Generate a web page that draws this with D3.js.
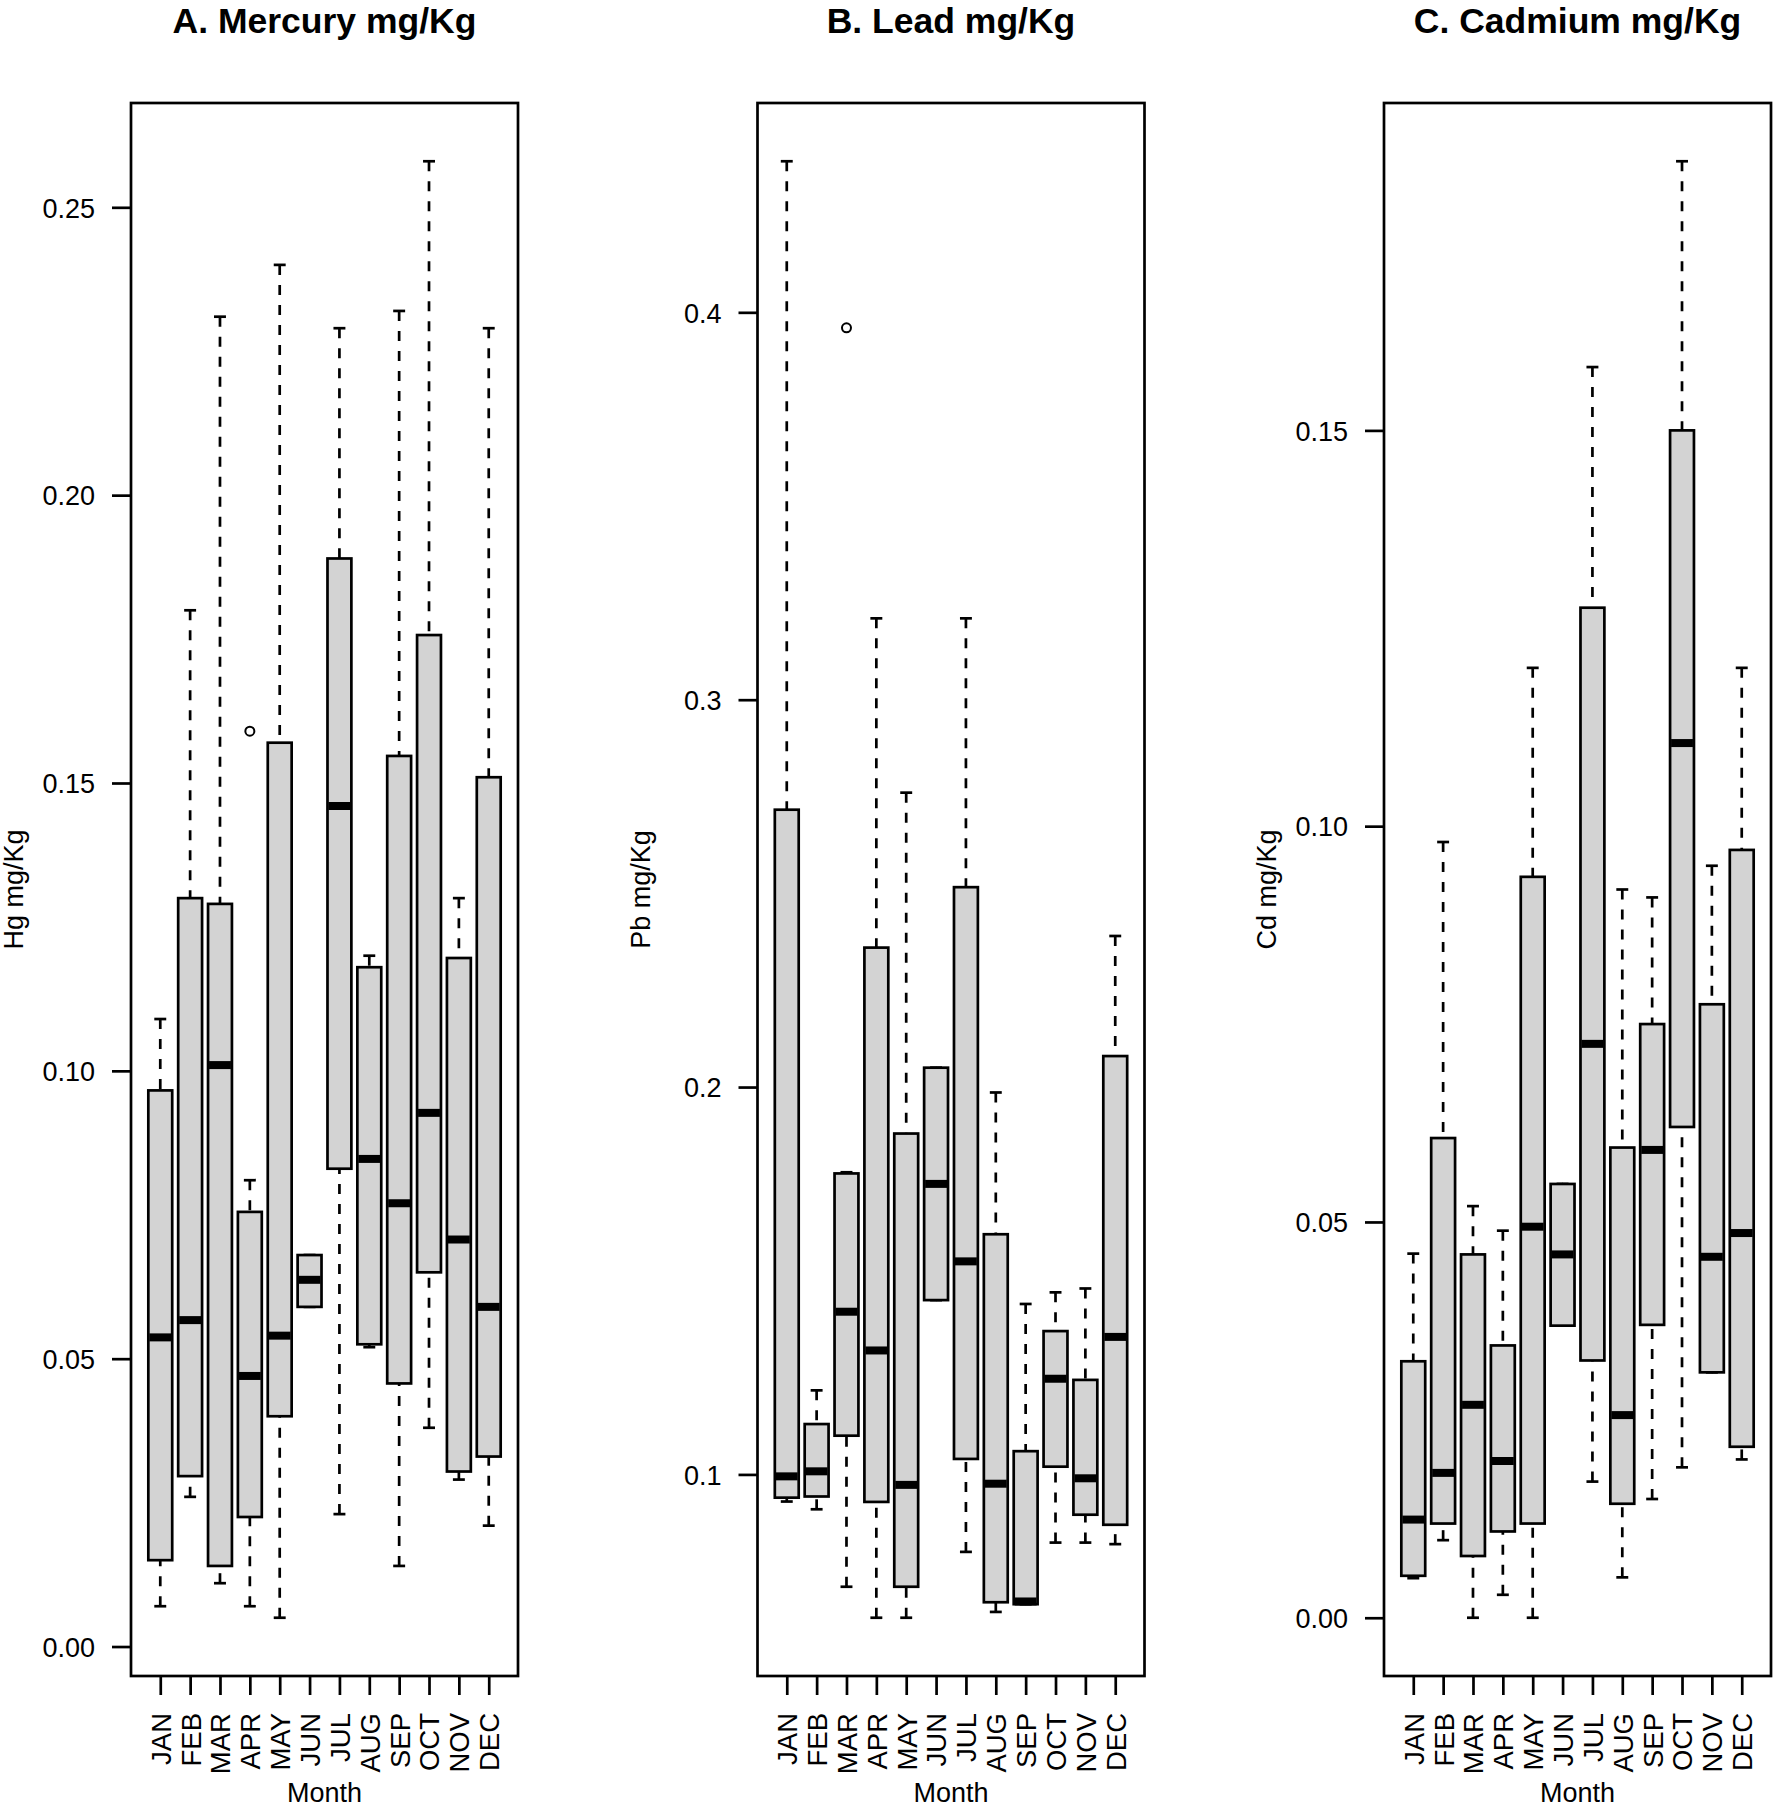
<!DOCTYPE html>
<html>
<head>
<meta charset="utf-8">
<script src="https://cdn.jsdelivr.net/npm/d3@7"></script>
<style>
  body { margin: 0; background: #fff; }
  text { font-family: "Liberation Sans", Arial, Helvetica, sans-serif; fill: #000; }
</style>
</head>
<body>
<script>
// month categories
const months = ["JAN", "FEB", "MAR", "APR", "MAY", "JUN", "JUL", "AUG", "SEP", "OCT", "NOV", "DEC"];

// A. Mercury
const hgLow  = [0.0070, 0.026, 0.011, 0.0070, 0.005, 0.059, 0.023, 0.052, 0.014, 0.038, 0.029, 0.021];
const hgQ1   = [0.0150, 0.0296, 0.014, 0.0225, 0.040, 0.059, 0.083, 0.0525, 0.0457, 0.065, 0.0304, 0.033];
const hgMed  = [0.0537, 0.0567, 0.101, 0.047, 0.054, 0.0637, 0.146, 0.0847, 0.077, 0.0927, 0.0707, 0.059];
const hgQ3   = [0.0966, 0.130, 0.129, 0.0755, 0.157, 0.068, 0.189, 0.118, 0.1547, 0.1757, 0.1196, 0.151];
const hgHigh = [0.109, 0.180, 0.231, 0.081, 0.240, 0.068, 0.229, 0.120, 0.232, 0.258, 0.130, 0.229];
const hgOutMonth = [4];
const hgOutValue = [0.159];
const hgTicks = [0, 0.05, 0.10, 0.15, 0.20, 0.25];

// B. Lead
const pbLow  = [0.0930, 0.091, 0.071, 0.063, 0.063, 0.145, 0.080, 0.0645, 0.0665, 0.0824, 0.0824, 0.082];
const pbQ1   = [0.0940, 0.0943, 0.110, 0.0929, 0.071, 0.145, 0.104, 0.067, 0.0665, 0.102, 0.0896, 0.087];
const pbMed  = [0.0995, 0.1008, 0.142, 0.132, 0.0973, 0.175, 0.155, 0.0976, 0.0672, 0.1247, 0.099, 0.1355];
const pbQ3   = [0.2716, 0.113, 0.1777, 0.236, 0.188, 0.205, 0.2516, 0.162, 0.106, 0.137, 0.1244, 0.208];
const pbHigh = [0.439, 0.1217, 0.178, 0.321, 0.276, 0.205, 0.321, 0.1986, 0.144, 0.147, 0.148, 0.239];
const pbOutMonth = [3];
const pbOutValue = [0.396];
const pbTicks = [0.1, 0.2, 0.3, 0.4];

// C. Cadmium
const cdLow  = [0.0050, 0.0098, 0.0, 0.0029, 0.0, 0.0369, 0.0172, 0.0051, 0.015, 0.019, 0.031, 0.020];
const cdQ1   = [0.0053, 0.0119, 0.0078, 0.0109, 0.0119, 0.0369, 0.0325, 0.0144, 0.037, 0.062, 0.031, 0.0216];
const cdMed  = [0.0124, 0.0183, 0.0269, 0.0198, 0.0494, 0.0459, 0.0725, 0.0256, 0.0591, 0.1105, 0.0456, 0.0486];
const cdQ3   = [0.0324, 0.0606, 0.0459, 0.0344, 0.0936, 0.0548, 0.1276, 0.0594, 0.075, 0.150, 0.0775, 0.097];
const cdHigh = [0.046, 0.098, 0.052, 0.0489, 0.120, 0.0548, 0.158, 0.092, 0.091, 0.184, 0.095, 0.120];
const cdOutMonth = [];
const cdOutValue = [];
const cdTicks = [0, 0.05, 0.10, 0.15];

const panels = [
  { title: "A. Mercury mg/Kg", ylab: "Hg mg/Kg", low: hgLow, q1: hgQ1, med: hgMed, q3: hgQ3, high: hgHigh,
    outM: hgOutMonth, outV: hgOutValue, ticks: hgTicks, fmt: ".2f" },
  { title: "B. Lead mg/Kg", ylab: "Pb mg/Kg", low: pbLow, q1: pbQ1, med: pbMed, q3: pbQ3, high: pbHigh,
    outM: pbOutMonth, outV: pbOutValue, ticks: pbTicks, fmt: ".1f" },
  { title: "C. Cadmium mg/Kg", ylab: "Cd mg/Kg", low: cdLow, q1: cdQ1, med: cdMed, q3: cdQ3, high: cdHigh,
    outM: cdOutMonth, outV: cdOutValue, ticks: cdTicks, fmt: ".2f" }
];

const W = 1775, H = 1808;
const lefts = [131, 757.5, 1384];
const pw = 387, plotTop = 103, plotBottom = 1676;
const lwd = 2.7;

const svg = d3.select("body").append("svg")
  .attr("width", W)
  .attr("height", H);

panels.forEach(function (p, k) {
  const left = lefts[k], right = left + pw;
  const g = svg.append("g");

  // R style range: data range extended by 4% on each side
  const lo = d3.min(p.low.concat(p.outV)), hi = d3.max(p.high.concat(p.outV));
  const pad = (hi - lo) * 0.04;
  const y = d3.scaleLinear().domain([lo - pad, hi + pad]).range([plotBottom, plotTop]);
  const x = d3.scaleLinear().domain([0.5 - 0.48, 12.5 + 0.48]).range([left, right]);
  const bw = (x(1.4) - x(0.6));

  const idx = d3.range(months.length);

  // whiskers, drawn from the end towards the box
  g.append("g").selectAll("line").data(idx).join("line")
    .attr("x1", i => x(i + 1)).attr("x2", i => x(i + 1))
    .attr("y1", i => y(p.high[i])).attr("y2", i => y(p.q3[i]))
    .attr("stroke", "#000").attr("stroke-width", lwd).attr("stroke-dasharray", "10,10");
  g.append("g").selectAll("line").data(idx).join("line")
    .attr("x1", i => x(i + 1)).attr("x2", i => x(i + 1))
    .attr("y1", i => y(p.low[i])).attr("y2", i => y(p.q1[i]))
    .attr("stroke", "#000").attr("stroke-width", lwd).attr("stroke-dasharray", "10,10");

  // staples
  [p.high, p.low].forEach(function (arr) {
    g.append("g").selectAll("line").data(idx).join("line")
      .attr("x1", i => x(i + 1) - bw / 4).attr("x2", i => x(i + 1) + bw / 4)
      .attr("y1", i => y(arr[i])).attr("y2", i => y(arr[i]))
      .attr("stroke", "#000").attr("stroke-width", lwd);
  });

  // boxes
  g.append("g").selectAll("rect").data(idx).join("rect")
    .attr("x", i => x(i + 1) - bw / 2)
    .attr("width", bw)
    .attr("y", i => y(p.q3[i]))
    .attr("height", i => y(p.q1[i]) - y(p.q3[i]))
    .attr("fill", "#d3d3d3")
    .attr("stroke", "#000")
    .attr("stroke-width", lwd);

  // medians
  g.append("g").selectAll("line").data(idx).join("line")
    .attr("x1", i => x(i + 1) - bw / 2 + 1).attr("x2", i => x(i + 1) + bw / 2 - 1)
    .attr("y1", i => y(p.med[i])).attr("y2", i => y(p.med[i]))
    .attr("stroke", "#000").attr("stroke-width", 8);

  // outliers
  g.append("g").selectAll("circle").data(p.outM).join("circle")
    .attr("cx", (m) => x(m))
    .attr("cy", (m, j) => y(p.outV[j]))
    .attr("r", 4.5)
    .attr("fill", "none")
    .attr("stroke", "#000")
    .attr("stroke-width", 2);

  // frame
  g.append("rect")
    .attr("x", left).attr("y", plotTop)
    .attr("width", pw).attr("height", plotBottom - plotTop)
    .attr("fill", "none").attr("stroke", "#000").attr("stroke-width", lwd);

  // y axis
  const ya = g.append("g")
    .attr("transform", "translate(" + left + ",0)")
    .call(d3.axisLeft(y).tickValues(p.ticks).tickSize(19).tickPadding(17).tickFormat(d3.format(p.fmt)));
  ya.select(".domain").remove();
  ya.selectAll("line").attr("stroke-width", lwd);
  ya.selectAll("text").attr("font-size", 27).attr("dy", "0.36em")
    .style("font-family", "'Liberation Sans', Arial, sans-serif");

  // x axis, rotated month labels
  const xa = g.append("g")
    .attr("transform", "translate(0," + plotBottom + ")")
    .call(d3.axisBottom(x).tickValues(d3.range(1, 13)).tickSize(19).tickFormat(d => months[d - 1]));
  xa.select(".domain").remove();
  xa.selectAll("line").attr("stroke-width", lwd);
  xa.selectAll("text")
    .attr("font-size", 27.5)
    .attr("text-anchor", "end")
    .attr("x", -37)
    .attr("y", 0)
    .attr("dy", "0.36em")
    .attr("transform", "rotate(-90)")
    .style("font-family", "'Liberation Sans', Arial, sans-serif");

  // titles and labels
  const cx = (left + right) / 2;
  g.append("text")
    .attr("x", cx).attr("y", 33)
    .attr("text-anchor", "middle")
    .attr("font-size", 35.5)
    .attr("font-weight", "bold")
    .text(p.title);

  g.append("text")
    .attr("x", cx).attr("y", 1802)
    .attr("text-anchor", "middle")
    .attr("font-size", 27)
    .text("Month");

  g.append("text")
    .attr("transform", "translate(" + (left - 108) + "," + ((plotTop + plotBottom) / 2) + ") rotate(-90)")
    .attr("text-anchor", "middle")
    .attr("font-size", 27)
    .text(p.ylab);
});
</script>
</body>
</html>
